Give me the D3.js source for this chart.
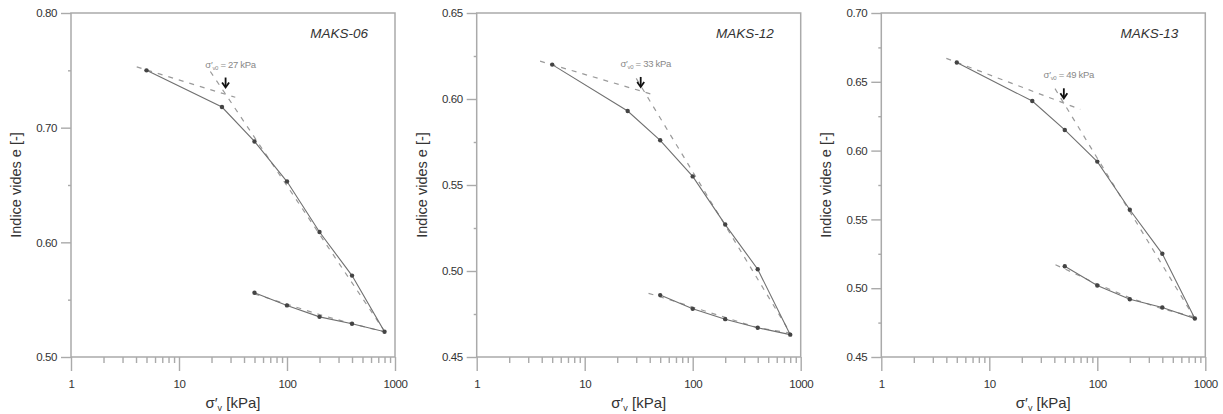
<!DOCTYPE html>
<html><head><meta charset="utf-8">
<script src="https://cdn.jsdelivr.net/npm/d3@7"></script>
<style>body{margin:0;background:#fff} svg{display:block}</style>
</head><body><svg id="c" width="1223" height="414"></svg>
<script>
// ---------- data ----------
const sampleNames = ["MAKS-06", "MAKS-12", "MAKS-13"];
const loadStress = [5, 25, 50, 100, 200, 400, 800];
const unloadStress = [800, 400, 200, 100, 50];

const eLoad06 = [0.750, 0.718, 0.688, 0.653, 0.609, 0.571, 0.522];
const eUnload06 = [0.522, 0.529, 0.535, 0.545, 0.556];
const eLoad12 = [0.620, 0.593, 0.576, 0.555, 0.527, 0.501, 0.463];
const eUnload12 = [0.463, 0.467, 0.472, 0.478, 0.486];
const eLoad13 = [0.664, 0.636, 0.615, 0.592, 0.557, 0.525, 0.478];
const eUnload13 = [0.478, 0.486, 0.492, 0.502, 0.516];

// construction (dashed) lines: [stress kPa, e]
const recomp06 = [[4.06, 0.753], [33.2, 0.7265]];
const virgin06 = [[19.5, 0.749], [780, 0.524]];
const swell06 = [[50, 0.555], [100, 0.546], [200, 0.537], [400, 0.529], [800, 0.522]];
const recomp12 = [[3.86, 0.622], [43.2, 0.6025]];
const virgin12 = [[30, 0.612], [800, 0.464]];
const swell12 = [[39, 0.487], [50, 0.485], [100, 0.479], [200, 0.473], [400, 0.467], [800, 0.464]];
const recomp13 = [[4.0, 0.667], [69.5, 0.630]];
const virgin13 = [[40.6, 0.645], [800, 0.478]];
const swell13 = [[41, 0.517], [50, 0.514], [100, 0.503], [200, 0.493], [400, 0.485], [800, 0.479]];

const preconsolidation = [27, 33, 49];      // sigma'v0 [kPa]
const arrowTipE = [0.735, 0.607, 0.638];

const yDomains = [[0.50, 0.80], [0.45, 0.65], [0.45, 0.70]];
const yMajor06 = [0.50, 0.60, 0.70, 0.80];
const yMinor06 = [0.55, 0.65, 0.75];
const yMajor12 = [0.45, 0.50, 0.55, 0.60, 0.65];
const yMinor12 = [0.475, 0.525, 0.575, 0.625];
const yMajor13 = [0.45, 0.50, 0.55, 0.60, 0.65, 0.70];
const yMinor13 = [0.475, 0.525, 0.575, 0.625, 0.675];
const xMajor = [1, 10, 100, 1000];
const xDomain = [1, 1000];

const panels = [
  {name: sampleNames[0], load: eLoad06, unload: eUnload06, dashed: [recomp06, virgin06, swell06], yd: yDomains[0], ym: yMajor06, yn: yMinor06, pc: preconsolidation[0], tip: arrowTipE[0]},
  {name: sampleNames[1], load: eLoad12, unload: eUnload12, dashed: [recomp12, virgin12, swell12], yd: yDomains[1], ym: yMajor12, yn: yMinor12, pc: preconsolidation[1], tip: arrowTipE[1]},
  {name: sampleNames[2], load: eLoad13, unload: eUnload13, dashed: [recomp13, virgin13, swell13], yd: yDomains[2], ym: yMajor13, yn: yMinor13, pc: preconsolidation[2], tip: arrowTipE[2]}
];

// ---------- layout ----------
const lefts = [71, 476.7, 881.3];
const W = 324, plotTop = 13, plotBottom = 357;
const axisColor = "#aaaaaa", textColor = "#333";
const font = "'Liberation Sans', Arial, sans-serif";

const svg = d3.select("#c");
const xMinor = [];
[1, 10, 100].forEach(d => { for (let k = 2; k <= 9; k++) xMinor.push(d * k); });

panels.forEach((p, i) => {
  const g = svg.append("g").attr("transform", `translate(${lefts[i]},0)`);
  const x = d3.scaleLog().domain(xDomain).range([0, W]);
  const y = d3.scaleLinear().domain(p.yd).range([plotBottom, plotTop]);

  // frame
  g.append("rect").attr("x", 0).attr("y", plotTop).attr("width", W).attr("height", plotBottom - plotTop)
    .attr("fill", "none").attr("stroke", axisColor).attr("stroke-width", 1.5);

  // axes
  const ya = g.append("g").call(d3.axisLeft(y).tickValues(p.ym).tickSize(10).tickPadding(4).tickSizeOuter(0).tickFormat(d3.format(".2f")));
  const yn = g.append("g").call(d3.axisLeft(y).tickValues(p.yn).tickSize(3).tickSizeOuter(0).tickFormat(""));
  const xa = g.append("g").attr("transform", `translate(0,${plotBottom})`)
    .call(d3.axisBottom(x).tickValues(xMajor).tickSize(14).tickPadding(9).tickSizeOuter(0).tickFormat(d3.format("d")));
  const xn = g.append("g").attr("transform", `translate(0,${plotBottom})`)
    .call(d3.axisBottom(x).tickValues(xMinor).tickSize(6).tickSizeOuter(0).tickFormat(""));
  [ya, yn, xa, xn].forEach(a => {
    a.select(".domain").remove();
    a.selectAll("line").attr("stroke", axisColor).attr("stroke-width", 1.4);
    a.selectAll("text").attr("fill", textColor).style("font-family", font).style("font-size", "11.5px").style("letter-spacing", "-0.4px");
  });

  // axis titles
  g.append("text").attr("transform", `translate(-55,${(plotTop + plotBottom) / 2}) rotate(-90)`)
    .attr("text-anchor", "middle").attr("dy", "0.35em")
    .style("font-family", font).style("font-size", "14.5px").attr("fill", textColor)
    .text("Indice vides e [-]");
  const xl = g.append("text").attr("x", W / 2).attr("y", 408).attr("text-anchor", "middle")
    .style("font-family", font).style("font-size", "15px").attr("fill", textColor);
  xl.append("tspan").text("σ′");
  xl.append("tspan").attr("dy", 3).style("font-size", "9px").text("v");
  xl.append("tspan").attr("dy", -3).text(" [kPa]");

  // sample title
  g.append("text").attr("x", 297).attr("y", 38).attr("text-anchor", "end")
    .style("font-family", font).style("font-size", "13.5px").style("font-style", "italic")
    .attr("fill", textColor).text(p.name);

  // dashed construction lines
  const line = d3.line().x(d => x(d[0])).y(d => y(d[1]));
  p.dashed.forEach(seg => {
    g.append("path").attr("d", line(seg)).attr("fill", "none")
      .attr("stroke", "#9a9a9a").attr("stroke-width", 1.2).attr("stroke-dasharray", "5,6");
  });

  // measured curve
  const loadPts = loadStress.map((s, j) => [s, p.load[j]]);
  const unloadPts = unloadStress.map((s, j) => [s, p.unload[j]]);
  const allPts = loadPts.concat(unloadPts.slice(1));
  g.append("path").attr("d", line(allPts)).attr("fill", "none")
    .attr("stroke", "#707070").attr("stroke-width", 1.1);
  g.selectAll("circle.m").data(allPts).join("circle").attr("class", "m")
    .attr("cx", d => x(d[0])).attr("cy", d => y(d[1])).attr("r", 2.2).attr("fill", "#444");

  // preconsolidation annotation
  const ax = x(p.pc), ay = y(p.tip);
  g.append("path").attr("d", `M${ax},${ay - 10}L${ax},${ay - 1}`).attr("stroke", "#111").attr("stroke-width", 1.8);
  g.append("path").attr("d", `M${ax - 3.5},${ay - 5}L${ax},${ay}L${ax + 3.5},${ay - 5}`)
    .attr("fill", "none").attr("stroke", "#111").attr("stroke-width", 1.8);
  const at = g.append("text").attr("x", ax + 5).attr("y", ay - 20).attr("text-anchor", "middle")
    .style("font-family", font).style("font-size", "9.5px").attr("fill", "#888").style("letter-spacing", "-0.3px");
  at.append("tspan").text("σ′");
  at.append("tspan").attr("dy", 2).style("font-size", "6px").text("v0");
  at.append("tspan").attr("dy", -2).text(` = ${p.pc} kPa`);
});
</script></body></html>
